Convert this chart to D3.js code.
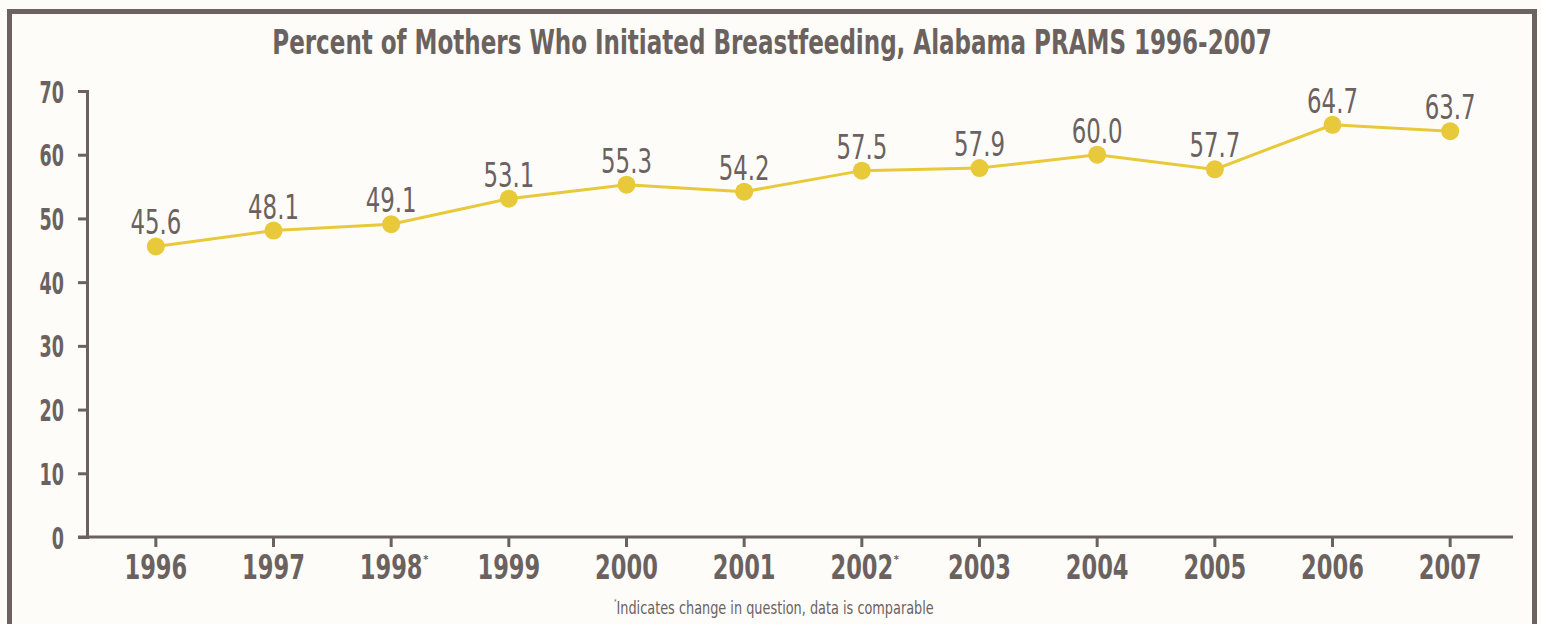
<!DOCTYPE html>
<html lang="en">
<head>
    <meta charset="UTF-8">
    <title>Percent of Mothers Who Initiated Breastfeeding, Alabama PRAMS 1996-2007</title>
    <script src="https://d3js.org/d3.v7.min.js"></script>
    <style>
        body {
            margin: 0;
            background-color: #fdfcf8;
        }

        svg {
            display: block;
        }

        svg text {
            font-family: 'DejaVu Sans Condensed', 'Liberation Sans Narrow', sans-serif;
        }

        .axis path,
        .axis line {
            stroke: #6b6260;
            stroke-width: 3;
            fill: none;
        }

        .axis text {
            fill: #6b6260;
            font-weight: bold;
        }

        .value-label {
            fill: #6b6260;
            text-anchor: middle;
        }
    </style>
</head>
<body>

    <svg width="1541" height="624"></svg>

    <script>
        const years = ['1996', '1997', '1998', '1999', '2000', '2001', '2002', '2003', '2004', '2005', '2006', '2007'];
        const percents = [45.6, 48.1, 49.1, 53.1, 55.3, 54.2, 57.5, 57.9, 60.0, 57.7, 64.7, 63.7];
        const starredYears = ['1998', '2002'];
        const yTicks = [0, 10, 20, 30, 40, 50, 60, 70];

        const textColor = '#6b6260';
        const lineColor = '#e8c93a';

        const svg = d3.select('svg');

        // narrow the text horizontally (the original uses a condensed face)
        function condense(sel, factor) {
            sel.each(function () {
                const t = d3.select(this);
                const x0 = +t.attr('x') || 0;
                t.attr('x', x0 / factor)
                    .attr('transform', `scale(${factor},1)`);
            });
        }

        // frame (open at the bottom, runs off the picture)
        svg.append('rect')
            .attr('x', 9.5)
            .attr('y', 11.5)
            .attr('width', 1525)
            .attr('height', 700)
            .attr('fill', 'none')
            .attr('stroke', '#6c6360')
            .attr('stroke-width', 5);

        const x = d3.scaleBand()
            .domain(years)
            .range([97, 1509]);

        const y = d3.scaleLinear()
            .domain([0, 70])
            .range([537, 91]);

        // title
        const title = svg.append('text')
            .attr('x', 772)
            .attr('y', 54)
            .attr('text-anchor', 'middle')
            .attr('font-size', 33)
            .attr('font-weight', 'bold')
            .attr('fill', textColor)
            .text('Percent of Mothers Who Initiated Breastfeeding, Alabama PRAMS 1996-2007');
        title.call(condense, 1000 / title.node().getComputedTextLength());

        // y axis
        const yAxis = svg.append('g')
            .attr('class', 'axis y-axis')
            .attr('transform', 'translate(87,0)')
            .call(d3.axisLeft(y).tickValues(yTicks).tickSize(9).tickPadding(14));
        yAxis.attr('font-family', null);
        yAxis.selectAll('text')
            .attr('font-size', 30)
            .attr('dy', '0.37em')
            .call(condense, 0.65);

        // x axis
        const xAxis = svg.append('g')
            .attr('class', 'axis x-axis')
            .attr('transform', `translate(0,${y(0)})`)
            .call(d3.axisBottom(x).tickSize(10).tickPadding(8));
        xAxis.attr('font-family', null);
        xAxis.select('.domain').remove();
        xAxis.append('line')
            .attr('x1', 78)
            .attr('x2', 1513);
        xAxis.selectAll('.tick text')
            .attr('font-size', 33)
            .attr('dy', '0.73em')
            .call(condense, 0.76);

        // asterisks on changed years
        xAxis.selectAll('.tick')
            .filter(d => starredYears.includes(d))
            .append('text')
            .attr('x', 32)
            .attr('y', 26)
            .attr('font-size', 11)
            .attr('text-anchor', 'start')
            .attr('font-weight', 'normal')
            .text('*');

        const points = years.map((yr, i) => ({ year: yr, value: percents[i] }));
        const cx = d => x(d.year) + x.bandwidth() / 2;

        // line
        svg.append('path')
            .datum(points)
            .attr('fill', 'none')
            .attr('stroke', lineColor)
            .attr('stroke-width', 3)
            .attr('d', d3.line().x(cx).y(d => y(d.value)));

        // markers
        svg.append('g')
            .selectAll('circle')
            .data(points)
            .enter().append('circle')
            .attr('cx', cx)
            .attr('cy', d => y(d.value))
            .attr('r', 9)
            .attr('fill', lineColor);

        // value labels
        svg.append('g')
            .selectAll('text')
            .data(points)
            .enter().append('text')
            .attr('class', 'value-label')
            .attr('x', cx)
            .attr('y', d => y(d.value) - 12)
            .attr('font-size', 33)
            .text(d => d.value.toFixed(1))
            .call(condense, 0.77);

        // footnote
        const note = svg.append('text')
            .attr('x', 614)
            .attr('y', 614)
            .attr('font-size', 18)
            .attr('fill', textColor);
        note.append('tspan')
            .attr('font-size', 7)
            .attr('dy', -10)
            .text('*');
        note.append('tspan')
            .attr('dy', 10)
            .text('Indicates change in question, data is comparable');
        note.call(condense, 320 / note.node().getComputedTextLength());
    </script>
</body>
</html>
